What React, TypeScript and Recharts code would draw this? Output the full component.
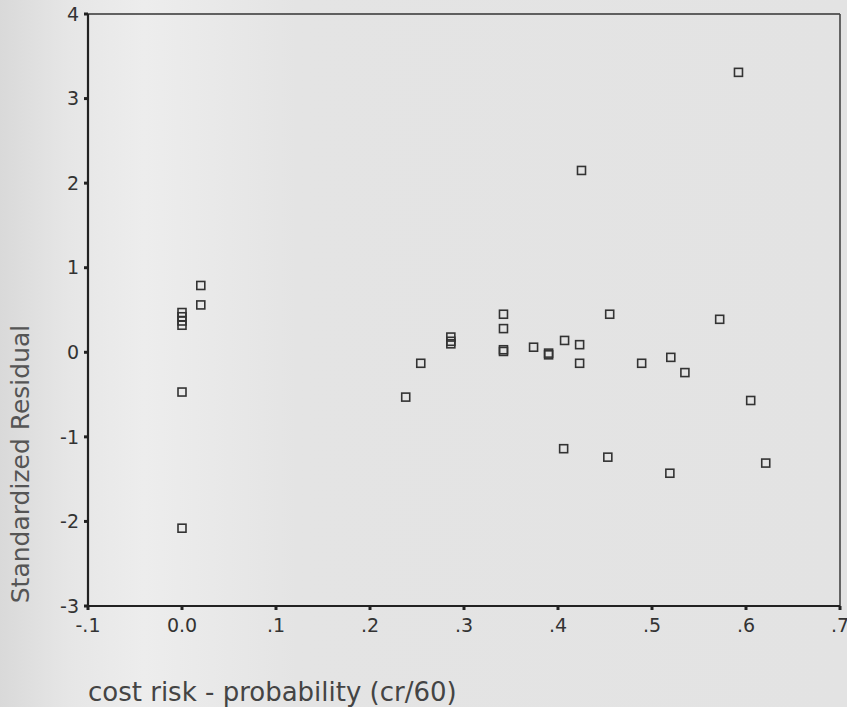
import React from "react";
import {
  ScatterChart,
  Scatter,
  XAxis,
  YAxis,
  ReferenceLine,
} from "recharts";

// cost risk - probability (cr/60)
const costRisk = [
  0.0, 0.0, 0.0, 0.0, 0.0, 0.0, 0.02, 0.02,
  0.238, 0.254, 0.286, 0.286, 0.286,
  0.342, 0.342, 0.342, 0.342, 0.374, 0.39, 0.39,
  0.406, 0.407, 0.423, 0.423, 0.425, 0.453, 0.455,
  0.489, 0.519, 0.52, 0.535, 0.572, 0.592, 0.605, 0.621,
];
// Standardized Residual
const stdResidual = [
  0.47, 0.42, 0.37, 0.32, -0.47, -2.08, 0.79, 0.56,
  -0.53, -0.13, 0.18, 0.13, 0.1,
  0.45, 0.28, 0.03, 0.01, 0.06, -0.01, -0.03,
  -1.14, 0.14, 0.09, -0.13, 2.15, -1.24, 0.45,
  -0.13, -1.43, -0.06, -0.24, 0.39, 3.31, -0.57, -1.31,
];

const xTicks = [-0.1, 0, 0.1, 0.2, 0.3, 0.4, 0.5, 0.6, 0.7];
const yTicks = [-3, -2, -1, 0, 1, 2, 3, 4];

const points = costRisk.map((x, i) => ({ x, y: stdResidual[i] }));

const fmtX = (v: number) => {
  if (Math.abs(v) < 1e-9) return "0.0";
  const s = v.toFixed(1);
  return s.replace("0.", ".");
};

const SquareMarker = (props: any) => {
  const { cx, cy } = props;
  if (cx == null || cy == null) return null;
  const s = 8;
  return (
    <rect
      x={cx - s / 2}
      y={cy - s / 2}
      width={s}
      height={s}
      fill="none"
      stroke="#333"
      strokeWidth={1.6}
    />
  );
};

const FONT = "'DejaVu Sans', Verdana, sans-serif";

export default function App() {
  return (
    <div
      style={{
        position: "absolute",
        left: 0,
        top: 0,
        width: 847,
        height: 707,
        background:
          "linear-gradient(90deg, #d9d9d9 0%, #e6e6e6 8%, #ededed 17%, #e4e4e4 35%, #e3e3e3 100%)",
        overflow: "hidden",
      }}
    >
      <ScatterChart
        width={847}
        height={707}
        margin={{ top: 14, right: 7, bottom: 61, left: 28 }}
      >
        <XAxis
          type="number"
          dataKey="x"
          domain={[-0.1, 0.7]}
          ticks={xTicks}
          tickFormatter={fmtX}
          interval={0}
          height={40}
          axisLine={{ stroke: "#222", strokeWidth: 2.2 }}
          tickLine={{ stroke: "#222", strokeWidth: 3 }}
          tickSize={4}
          tickMargin={9}
          tick={{ fill: "#333", fontSize: 19, fontFamily: FONT }}
          allowDataOverflow
        />
        <YAxis
          type="number"
          dataKey="y"
          domain={[-3, 4]}
          ticks={yTicks}
          interval={0}
          width={60}
          axisLine={{ stroke: "#222", strokeWidth: 2.2 }}
          tickLine={{ stroke: "#222", strokeWidth: 3 }}
          tickSize={4}
          tickMargin={5}
          tick={{ fill: "#333", fontSize: 19, fontFamily: FONT }}
          allowDataOverflow
        />
        <ReferenceLine y={4} stroke="#333" strokeWidth={1.6} />
        <ReferenceLine x={0.7} stroke="#444" strokeWidth={1.6} />
        <Scatter
          data={points}
          shape={SquareMarker}
          isAnimationActive={false}
        />
        <text
          x={20}
          y={464}
          transform="rotate(-90 20 464)"
          textAnchor="middle"
          dominantBaseline="central"
          fill="#555"
          fontSize={25}
          fontFamily={FONT}
        >
          Standardized Residual
        </text>
        <text
          x={88}
          y={701}
          textAnchor="start"
          fill="#444"
          fontSize={26}
          fontFamily={FONT}
        >
          cost risk - probability (cr/60)
        </text>
      </ScatterChart>
    </div>
  );
}
